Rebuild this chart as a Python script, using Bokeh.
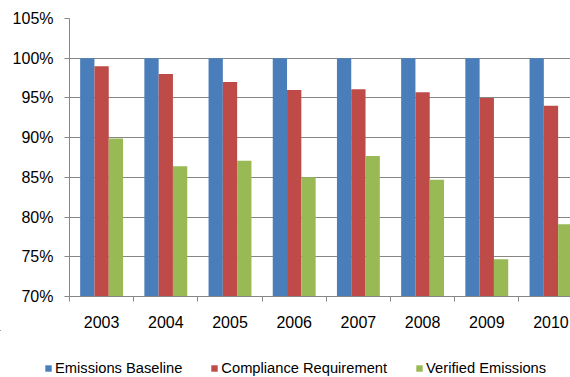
from bokeh.plotting import figure
from bokeh.layouts import column
from bokeh.models import (Range1d, FixedTicker, PrintfTickFormatter, Legend, LegendItem,
                          ColumnDataSource)
from bokeh.transform import dodge
from bokeh.embed import file_html
from bokeh.resources import INLINE

years = ["2003", "2004", "2005", "2006", "2007", "2008", "2009", "2010"]
baseline = [100.0, 100.0, 100.0, 100.0, 100.0, 100.0, 100.0, 100.0]
compliance = [99.0, 98.0, 97.0, 96.0, 96.1, 95.7, 95.0, 94.0]
verified = [89.9, 86.4, 87.1, 85.0, 87.7, 84.7, 74.7, 79.1]
series_names = ["Emissions Baseline", "Compliance Requirement", "Verified Emissions"]
colors = ["#4A7EBB", "#BE4B48", "#98B954"]
y_ticks = [70, 75, 80, 85, 90, 95, 100, 105]

src = ColumnDataSource(dict(
    x=list(range(len(years))),
    baseline=baseline,
    compliance=compliance,
    verified=verified,
))

FONT = "Liberation Sans"
GRID = "#868686"

p = figure(width=570, height=330, output_backend="svg", toolbar_location=None,
           x_range=Range1d(-0.5, 7.304), y_range=Range1d(70, 105),
           min_border_left=69, min_border_right=0, min_border_top=18,
           min_border_bottom=33)
p.outline_line_color = None
p.background_fill_color = "white"
p.border_fill_color = "white"

bw = 0.2227
fields = ["baseline", "compliance", "verified"]
offsets = [-bw, 0.0, bw]
for f, off, c in zip(fields, offsets, colors):
    p.vbar(x=dodge("x", off), top=f, bottom=70, width=bw, source=src,
           fill_color=c, line_color=None)

# x axis
p.xaxis.ticker = FixedTicker(ticks=list(range(len(years))),
                             minor_ticks=[i - 0.5 for i in range(len(years) + 1)])
p.xaxis.major_label_overrides = {i: y for i, y in enumerate(years)}
p.xaxis.major_tick_out = 0
p.xaxis.major_tick_in = 0
p.xaxis.minor_tick_out = 5
p.xaxis.minor_tick_in = 0
p.xaxis.minor_tick_line_color = GRID
p.xaxis.axis_line_color = GRID
p.xaxis.major_label_standoff = 14
p.xaxis.major_label_text_font = FONT
p.xaxis.major_label_text_font_size = "16px"
p.xaxis.major_label_text_color = "black"

# y axis
p.yaxis.ticker = FixedTicker(ticks=y_ticks)
p.yaxis.formatter = PrintfTickFormatter(format="%d%%")
p.yaxis.major_tick_out = 5
p.yaxis.major_tick_in = 0
p.yaxis.minor_tick_line_color = None
p.yaxis.major_tick_line_color = GRID
p.yaxis.axis_line_color = GRID
p.yaxis.major_label_standoff = 11
p.yaxis.major_label_text_font = FONT
p.yaxis.major_label_text_font_size = "16px"
p.yaxis.major_label_text_color = "black"

p.xgrid.grid_line_color = None
p.ygrid.grid_line_color = GRID
p.ygrid.grid_line_width = 1

# legend strip (its bars use the same data but sit outside its visible range)
p2 = figure(width=570, height=47, output_backend="svg", toolbar_location=None,
            x_range=Range1d(100, 670), y_range=Range1d(0, 47), min_border=0)
p2.frame_align = False
p.frame_align = False
p2.outline_line_color = None
p2.background_fill_color = "white"
p2.border_fill_color = "white"
p2.axis.visible = False
p2.grid.visible = False
leg_renderers = []
for f, c in zip(fields, colors):
    leg_renderers.append(p2.vbar(x="x", top=f, bottom=70, width=bw, source=src,
                                 fill_color=c, line_color=None))

legend = Legend(items=[LegendItem(label=n, renderers=[r]) for n, r in zip(series_names, leg_renderers)],
                orientation="horizontal", location=(44, 1),
                glyph_width=8, glyph_height=8, label_standoff=3, spacing=28,
                padding=0, margin=0, border_line_color=None, background_fill_alpha=0,
                label_text_font=FONT, label_text_font_size="14.7px",
                label_text_color="black")
p2.add_layout(legend, "center")

layout = column(p, p2, spacing=0)
open("out.html", "w").write(file_html(layout, INLINE))
